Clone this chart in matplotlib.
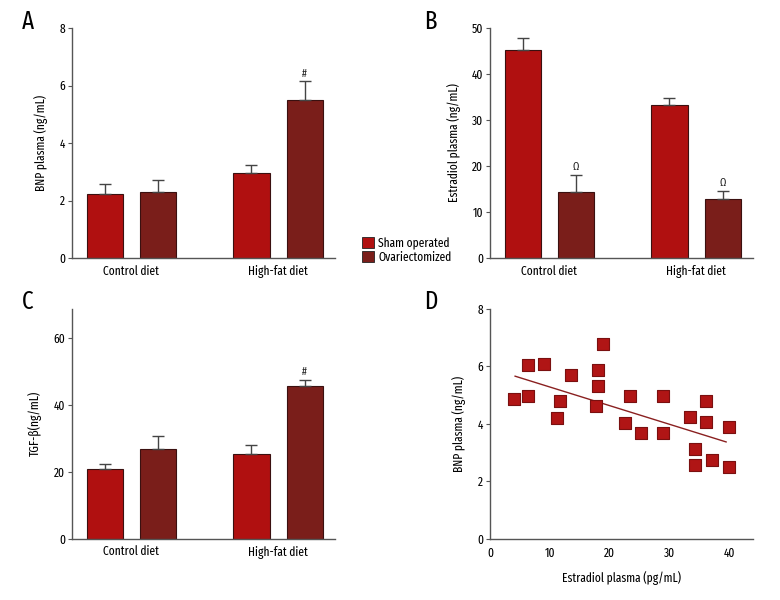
import numpy as np
import matplotlib
matplotlib.use("Agg")
import matplotlib.pyplot as plt
from matplotlib.patches import Patch

plt.rcParams["font.family"] = ["Fira Sans Extra Condensed", "Fira Sans Condensed",
                               "Roboto Condensed", "DejaVu Sans"]

groups = ["Control diet", "High-fat diet"]
series = ["Sham operated", "Ovariectomized"]
colors = ["#b01010", "#7a1e1a"]

# panel A: BNP plasma
bnp_mean = {"Sham operated": [2.23, 2.94], "Ovariectomized": [2.29, 5.49]}
bnp_err = {"Sham operated": [0.36, 0.30], "Ovariectomized": [0.43, 0.65]}
bnp_marks = {"Ovariectomized": ["", "#"]}

# panel B: estradiol plasma
est_mean = {"Sham operated": [45.3, 33.3], "Ovariectomized": [14.3, 12.9]}
est_err = {"Sham operated": [2.6, 1.5], "Ovariectomized": [3.8, 1.6]}
est_marks = {"Ovariectomized": ["\u03a9", "\u03a9"]}

# panel C: TGF-beta
tgf_mean = {"Sham operated": [20.8, 25.4], "Ovariectomized": [26.8, 45.7]}
tgf_err = {"Sham operated": [1.5, 2.6], "Ovariectomized": [3.9, 1.7]}
tgf_marks = {"Ovariectomized": ["", "#"]}

# panel D: scatter estradiol vs BNP
est_x = [4.0, 6.3, 6.3, 9.0, 13.6, 11.7, 11.2, 18.9, 18.1, 18.0, 17.7, 22.6,
         23.4, 25.2, 28.9, 28.9, 33.4, 34.3, 34.3, 36.1, 36.1, 37.1, 40.0, 40.0]
bnp_y = [4.87, 6.06, 4.97, 6.09, 5.71, 4.79, 4.19, 6.79, 5.88, 5.33, 4.63, 4.04,
         4.98, 3.68, 4.98, 3.67, 4.23, 3.11, 2.57, 4.80, 4.08, 2.73, 3.89, 2.49]
fit_x = [4.2, 39.5]
fit_y = [5.66, 3.37]

spine_col = "#555555"
fs_tick = 9
fs_lab = 9


def style_axes(ax):
    for s in ["top", "right"]:
        ax.spines[s].set_visible(False)
    for s in ["left", "bottom"]:
        ax.spines[s].set_color(spine_col)
        ax.spines[s].set_linewidth(1.0)
    ax.tick_params(axis="y", direction="out", length=3, width=0.8,
                   color=spine_col, labelsize=fs_tick, pad=2)


def bar_panel(ax, means, errs, marks, ymax, yticks, ylabel):
    x = np.arange(len(groups))
    offs = [-0.181, 0.181]
    for i, s in enumerate(series):
        pos = x + offs[i]
        ax.bar(pos, means[s], width=0.246, color=colors[i],
               edgecolor="#3a1010", linewidth=0.8, zorder=2)
        ax.errorbar(pos, means[s], yerr=[np.zeros(len(groups)), errs[s]],
                    fmt="none", ecolor="#444444", elinewidth=1.0,
                    capsize=4, capthick=1.0, zorder=3)
        if s in marks:
            for p, m, e, t in zip(pos, means[s], errs[s], marks[s]):
                if t:
                    ax.text(p, m + e + ymax * 0.012, t, ha="center", va="bottom",
                            fontsize=8, color="#222222")
    ax.set_xlim(-0.406, 1.389)
    ax.set_ylim(0, ymax)
    ax.set_yticks(yticks)
    ax.set_xticks(x)
    ax.set_xticklabels(groups, fontsize=fs_lab)
    ax.tick_params(axis="x", length=0, pad=5)
    ax.set_ylabel(ylabel, fontsize=fs_lab, labelpad=8)
    style_axes(ax)


fig = plt.figure(figsize=(7.8, 6.0), dpi=100)
axA = fig.add_axes([0.0923, 0.57, 0.3372, 0.3833])
axB = fig.add_axes([0.6282, 0.57, 0.3372, 0.3833])
axC = fig.add_axes([0.0923, 0.1022, 0.3372, 0.3828])
axD = fig.add_axes([0.6282, 0.1022, 0.3372, 0.3828])

bar_panel(axA, bnp_mean, bnp_err, bnp_marks, 8, [0, 2, 4, 6, 8], "BNP plasma (ng/mL)")
bar_panel(axB, est_mean, est_err, est_marks, 50, [0, 10, 20, 30, 40, 50],
          "Estradiol plasma (ng/mL)")
bar_panel(axC, tgf_mean, tgf_err, tgf_marks, 68.8, [0, 20, 40, 60], "TGF-\u03b2(ng/mL)")

# scatter
axD.plot(fit_x, fit_y, color="#8a2020", linewidth=1.0, zorder=2)
axD.scatter(est_x, bnp_y, marker="s", s=70, color="#b01515",
            edgecolors="#7a1010", linewidths=0.8, zorder=3)
axD.set_xlim(0, 44)
axD.set_ylim(0, 8)
axD.set_xticks([0, 10, 20, 30, 40])
axD.set_yticks([0, 2, 4, 6, 8])
axD.set_xlabel("Estradiol plasma (pg/mL)", fontsize=fs_lab, labelpad=8)
axD.set_ylabel("BNP plasma (ng/mL)", fontsize=fs_lab, labelpad=8)
style_axes(axD)
axD.tick_params(axis="x", length=0, labelsize=fs_tick, pad=6)

# shared legend
handles = [Patch(facecolor=colors[i], edgecolor="#222222", linewidth=0.6, label=s)
           for i, s in enumerate(series)]
fig.legend(handles=handles, loc="center left", bbox_to_anchor=(0.456, 0.583),
           frameon=False, fontsize=9, handlelength=1.0, handleheight=1.0,
           handletextpad=0.3, labelspacing=0.1, borderpad=0)

# panel letters
for lab, xx, yy in [("A", 0.036, 0.963), ("B", 0.552, 0.963),
                    ("C", 0.036, 0.497), ("D", 0.552, 0.497)]:
    fig.text(xx, yy, lab, fontsize=18, ha="center", va="center")

fig.savefig("out.png", dpi=100)
